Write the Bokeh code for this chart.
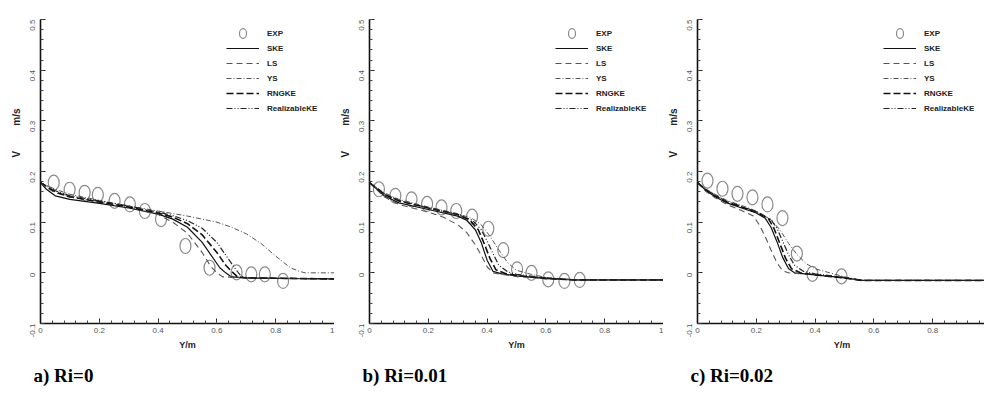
import math
from bokeh.plotting import figure
from bokeh.layouts import row
from bokeh.models import (Range1d, SingleIntervalTicker, CustomJSTickFormatter, Legend,
                          LegendItem, Title)
from bokeh.embed import file_html
from bokeh.resources import INLINE

# ---------------- data ----------------
series_names = ["EXP", "SKE", "LS", "YS", "RNGKE", "RealizableKE"]
captions = ["a) Ri=0", "b) Ri=0.01", "c) Ri=0.02"]
x_label = "Y/m"
y_label = "V" + "\u00a0" * 9 + "m/s"

# Panel a) Ri=0
exp_x_a = [0.045, 0.099, 0.150, 0.195, 0.252, 0.304, 0.355, 0.410, 0.493, 0.575, 0.667, 0.717, 0.763, 0.825]
exp_y_a = [0.178, 0.164, 0.158, 0.154, 0.142, 0.135, 0.122, 0.106, 0.053, 0.010, 0.001, -0.003, -0.003, -0.016]
ske_x_a = [0, 0.02, 0.05, 0.1, 0.15, 0.2, 0.3, 0.4, 0.45, 0.5, 0.55, 0.58, 0.61, 0.63, 0.65, 0.7, 0.8, 1.0]
ske_y_a = [0.178, 0.165, 0.152, 0.145, 0.141, 0.137, 0.128, 0.116, 0.106, 0.090, 0.060, 0.035, 0.010, 0.0, -0.008, -0.010, -0.011, -0.012]
ls_x_a = [0, 0.02, 0.05, 0.1, 0.2, 0.3, 0.4, 0.45, 0.5, 0.55, 0.58, 0.6, 0.62, 0.7, 1.0]
ls_y_a = [0.178, 0.168, 0.158, 0.150, 0.140, 0.130, 0.115, 0.100, 0.078, 0.040, 0.012, 0.0, -0.008, -0.010, -0.012]
ys_x_a = [0, 0.05, 0.1, 0.2, 0.3, 0.4, 0.5, 0.55, 0.6, 0.65, 0.7, 0.75, 0.8, 0.85, 0.88, 0.9, 1.0]
ys_y_a = [0.178, 0.165, 0.155, 0.143, 0.132, 0.122, 0.112, 0.106, 0.100, 0.090, 0.077, 0.058, 0.033, 0.010, 0.003, 0.0, 0.0]
rng_x_a = [0, 0.05, 0.1, 0.2, 0.3, 0.4, 0.45, 0.5, 0.55, 0.6, 0.63, 0.65, 0.67, 0.7, 1.0]
rng_y_a = [0.178, 0.160, 0.150, 0.140, 0.130, 0.118, 0.110, 0.097, 0.075, 0.040, 0.015, 0.003, -0.008, -0.010, -0.012]
rea_x_a = [0, 0.05, 0.1, 0.2, 0.3, 0.4, 0.45, 0.5, 0.55, 0.6, 0.63, 0.66, 0.68, 0.7, 1.0]
rea_y_a = [0.178, 0.162, 0.152, 0.142, 0.132, 0.120, 0.113, 0.103, 0.088, 0.060, 0.035, 0.010, -0.005, -0.010, -0.012]

# Panel b) Ri=0.01
exp_x_b = [0.032, 0.088, 0.143, 0.196, 0.245, 0.295, 0.349, 0.404, 0.455, 0.502, 0.551, 0.608, 0.663, 0.715]
exp_y_b = [0.165, 0.152, 0.145, 0.136, 0.129, 0.122, 0.111, 0.087, 0.045, 0.007, 0.0, -0.013, -0.016, -0.014]
ske_x_b = [0, 0.05, 0.1, 0.2, 0.3, 0.33, 0.36, 0.38, 0.40, 0.42, 0.45, 0.5, 0.6, 0.7, 1.0]
ske_y_b = [0.178, 0.152, 0.138, 0.125, 0.112, 0.104, 0.085, 0.060, 0.025, 0.003, -0.002, -0.006, -0.011, -0.014, -0.014]
ls_x_b = [0, 0.05, 0.1, 0.2, 0.25, 0.3, 0.33, 0.36, 0.38, 0.40, 0.42, 0.45, 0.5, 0.6, 0.7, 1.0]
ls_y_b = [0.178, 0.150, 0.135, 0.120, 0.110, 0.095, 0.080, 0.055, 0.035, 0.012, 0.0, -0.003, -0.007, -0.012, -0.014, -0.014]
ys_x_b = [0, 0.05, 0.1, 0.2, 0.3, 0.35, 0.38, 0.41, 0.44, 0.47, 0.5, 0.55, 0.6, 0.7, 1.0]
ys_y_b = [0.178, 0.158, 0.145, 0.130, 0.117, 0.107, 0.095, 0.072, 0.045, 0.020, 0.005, -0.003, -0.009, -0.014, -0.014]
rng_x_b = [0, 0.05, 0.1, 0.2, 0.3, 0.34, 0.37, 0.39, 0.41, 0.43, 0.46, 0.5, 0.6, 0.7, 1.0]
rng_y_b = [0.178, 0.155, 0.142, 0.128, 0.115, 0.105, 0.085, 0.058, 0.028, 0.006, -0.001, -0.005, -0.011, -0.014, -0.014]
rea_x_b = [0, 0.05, 0.1, 0.2, 0.3, 0.35, 0.38, 0.40, 0.42, 0.44, 0.47, 0.5, 0.6, 0.7, 1.0]
rea_y_b = [0.178, 0.156, 0.143, 0.128, 0.115, 0.104, 0.085, 0.063, 0.038, 0.015, 0.002, -0.003, -0.010, -0.014, -0.014]

# Panel c) Ri=0.02
exp_x_c = [0.034, 0.085, 0.136, 0.187, 0.238, 0.289, 0.338, 0.391, 0.490]
exp_y_c = [0.182, 0.166, 0.156, 0.149, 0.135, 0.108, 0.038, -0.002, -0.007]
ske_x_c = [0, 0.03, 0.06, 0.1, 0.15, 0.2, 0.23, 0.25, 0.27, 0.29, 0.31, 0.33, 0.4, 0.5, 0.56, 1.0]
ske_y_c = [0.178, 0.162, 0.150, 0.138, 0.128, 0.118, 0.108, 0.090, 0.062, 0.030, 0.008, 0.0, -0.004, -0.010, -0.015, -0.015]
ls_x_c = [0, 0.03, 0.06, 0.1, 0.15, 0.19, 0.21, 0.23, 0.25, 0.27, 0.29, 0.31, 0.4, 0.5, 0.56, 1.0]
ls_y_c = [0.178, 0.160, 0.148, 0.135, 0.123, 0.112, 0.095, 0.072, 0.045, 0.020, 0.004, 0.0, -0.004, -0.010, -0.015, -0.015]
ys_x_c = [0, 0.03, 0.06, 0.1, 0.15, 0.2, 0.25, 0.28, 0.31, 0.34, 0.37, 0.4, 0.45, 0.5, 0.56, 1.0]
ys_y_c = [0.178, 0.165, 0.155, 0.143, 0.133, 0.122, 0.105, 0.085, 0.058, 0.035, 0.018, 0.008, 0.0, -0.008, -0.015, -0.015]
rng_x_c = [0, 0.03, 0.06, 0.1, 0.15, 0.2, 0.24, 0.26, 0.28, 0.30, 0.32, 0.35, 0.4, 0.5, 0.56, 1.0]
rng_y_c = [0.178, 0.163, 0.152, 0.140, 0.130, 0.120, 0.108, 0.088, 0.058, 0.028, 0.008, 0.0, -0.004, -0.010, -0.015, -0.015]
rea_x_c = [0, 0.03, 0.06, 0.1, 0.15, 0.2, 0.25, 0.27, 0.29, 0.31, 0.33, 0.36, 0.4, 0.5, 0.56, 1.0]
rea_y_c = [0.178, 0.164, 0.153, 0.141, 0.131, 0.121, 0.105, 0.088, 0.062, 0.035, 0.015, 0.003, -0.002, -0.009, -0.015, -0.015]

# ---------------- styles ----------------
FONT = "Liberation Sans"
line_styles = {
    "SKE": dict(line_color="#111111", line_width=1.2, line_dash="solid"),
    "LS": dict(line_color="#555555", line_width=1.1, line_dash="6 4"),
    "YS": dict(line_color="#555555", line_width=1.0, line_dash="5 2 1 2"),
    "RNGKE": dict(line_color="#111111", line_width=1.6, line_dash="7 3"),
    "RealizableKE": dict(line_color="#222222", line_width=1.2, line_dash="6 2 1 2 1 2"),
}

fmt = CustomJSTickFormatter(code="return Number(tick.toFixed(2)).toString();")


def make_panel(caption, exp_x, exp_y, curves, left, fw, xend):
    p = figure(frame_width=fw, frame_height=304, output_backend="svg", toolbar_location=None,
               x_range=Range1d(0, xend), y_range=Range1d(-0.1, 0.5),
               min_border_left=left, min_border_right=0, min_border_top=19, min_border_bottom=73)
    p.outline_line_color = None
    p.xgrid.visible = False
    p.ygrid.visible = False
    p.background_fill_color = "white"
    p.border_fill_color = "white"

    for ax, interval in ((p.xaxis[0], 0.2), (p.yaxis[0], 0.1)):
        ax.ticker = SingleIntervalTicker(interval=interval, num_minor_ticks=5)
        ax.formatter = fmt
        ax.axis_line_color = "#111111"
        ax.axis_line_width = 1.6
        ax.major_tick_in = 5
        ax.major_tick_out = 0
        ax.minor_tick_in = 3
        ax.minor_tick_out = 0
        ax.major_tick_line_color = "#222222"
        ax.minor_tick_line_color = "#444444"
        ax.major_label_text_font = FONT
        ax.major_label_text_font_size = "8px"
        ax.major_label_text_color = "#555555"
    p.yaxis.major_label_orientation = math.pi / 2
    p.yaxis.major_label_standoff = 8
    p.xaxis.major_label_standoff = 4
    p.xaxis.axis_label = x_label
    p.xaxis.axis_label_text_font = FONT
    p.xaxis.axis_label_text_font_size = "9px"
    p.xaxis.axis_label_text_font_style = "bold"
    p.xaxis.axis_label_text_color = "#222222"
    p.xaxis.axis_label_standoff = 4

    items = []
    r_exp = p.ellipse(x=exp_x, y=exp_y, width=11, height=15, width_units="screen",
                      height_units="screen", fill_color=None, line_color="#8a8a8a", line_width=1.2)
    items.append(LegendItem(label=series_names[0], renderers=[r_exp]))
    for name, (cx, cy) in zip(series_names[1:], curves):
        r = p.line(cx, cy, **line_styles[name])
        items.append(LegendItem(label=name, renderers=[r]))

    legend = Legend(items=items, location=(186, 209), padding=0, margin=0, spacing=3,
                    glyph_width=33, glyph_height=12, label_height=12, label_standoff=8,
                    label_text_font=FONT, label_text_font_size="8px", label_text_font_style="bold",
                    label_text_color="#222222", background_fill_alpha=0, border_line_color=None)
    p.add_layout(legend)

    # y-axis title on the left side, its top end placed like the original
    p.add_layout(Title(text=y_label, align="right", offset=89, standoff=5,
                       text_font=FONT, text_font_size="10px", text_font_style="bold",
                       text_color="#222222"), "left")
    # caption below the panel
    p.add_layout(Title(text=caption, align="left", offset=-7, standoff=21,
                       text_font="Liberation Serif", text_font_size="19px",
                       text_font_style="bold", text_color="#000000"), "below")
    return p


pa = make_panel(captions[0], exp_x_a, exp_y_a,
                [(ske_x_a, ske_y_a), (ls_x_a, ls_y_a), (ys_x_a, ys_y_a), (rng_x_a, rng_y_a), (rea_x_a, rea_y_a)],
                40, 294, 1.0)
pb = make_panel(captions[1], exp_x_b, exp_y_b,
                [(ske_x_b, ske_y_b), (ls_x_b, ls_y_b), (ys_x_b, ys_y_b), (rng_x_b, rng_y_b), (rea_x_b, rea_y_b)],
                35, 294, 1.0)
pc = make_panel(captions[2], exp_x_c, exp_y_c,
                [(ske_x_c, ske_y_c), (ls_x_c, ls_y_c), (ys_x_c, ys_y_c), (rng_x_c, rng_y_c), (rea_x_c, rea_y_c)],
                32, 289, 289 / 294)

layout = row(pa, pb, pc, spacing=0)
open("out.html", "w").write(file_html(layout, INLINE))
